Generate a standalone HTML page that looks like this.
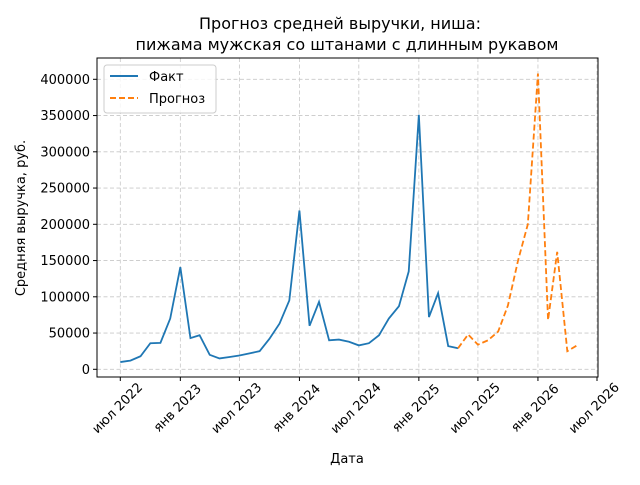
<!DOCTYPE html>
<html><head><meta charset="utf-8"><style>
body{margin:0;background:#fff;}
svg text{font-family:"DejaVu Sans","Liberation Sans",sans-serif;fill:#000;}
</style></head><body>
<svg id="c" width="640" height="480" viewBox="0 0 640 480" xmlns="http://www.w3.org/2000/svg">
<text x="340" y="29" font-size="16" text-anchor="middle">Прогноз средней выручки, ниша:</text>
<text x="347" y="50" font-size="16" text-anchor="middle">пижама мужская со штанами с длинным рукавом</text>
<g id="grid"></g><g id="series"></g><g id="axes"></g>
<rect x="97" y="58" width="501" height="319" fill="none" stroke="#000" stroke-width="1"/>
<text x="347" y="463" font-size="13" text-anchor="middle">Дата</text>
<text transform="translate(25,218) rotate(-90)" font-size="13" text-anchor="middle">Средняя выручка, руб.</text>
<g>
<rect x="104" y="65" width="112" height="48" rx="3" fill="#fff" fill-opacity="0.8" stroke="#ccc"/>
<line x1="110" y1="76" x2="138" y2="76" stroke="#1f77b4" stroke-width="2"/>
<text x="149" y="81" font-size="13">Факт</text>
<line x1="110" y1="98" x2="138" y2="98" stroke="#ff7f0e" stroke-width="2" stroke-dasharray="6,3"/>
<text x="149" y="103" font-size="13">Прогноз</text>
</g>
</svg>
<script>
const factStart = [2022, 6];
const factValues = [10000,12000,18000,36000,36500,70000,141000,43000,47000,20000,15000,17000,19000,22000,25000,42000,63000,95000,219000,60000,93000,40000,41000,38000,33000,36000,47000,70000,87000,135000,351000,72000,105000,32000,29000];
const forecastStart = [2025, 4];
const forecastValues = [29000,48000,34000,40000,52000,88000,150000,200000,408000,68000,162000,25000,33000];
const yTicks = [0,50000,100000,150000,200000,250000,300000,350000,400000];
const xTickDates = [[2022,6],[2023,0],[2023,6],[2024,0],[2024,6],[2025,0],[2025,6],[2026,0],[2026,6]];
const xTickLabels = ["июл 2022","янв 2023","июл 2023","янв 2024","июл 2024","янв 2025","июл 2025","янв 2026","июл 2026"];

const NS="http://www.w3.org/2000/svg";
const t0=Date.UTC(2022,6,1), t1=Date.UTC(2026,6,1);
function xs(y,m){return 120.3+(Date.UTC(y,m,1)-t0)/(t1-t0)*(597-120.3);}
function ys(v){return 369.3-v/400000*290;}
function mk(tag,attrs,parent){const e=document.createElementNS(NS,tag);for(const k in attrs)e.setAttribute(k,attrs[k]);parent.appendChild(e);return e;}
const grid=document.getElementById('grid'),axes=document.getElementById('axes'),series=document.getElementById('series');
yTicks.forEach(v=>{const y=ys(v);
 const g=mk('line',{x1:97,x2:598,y1:y,y2:y,stroke:'#c8c8c8','stroke-width':0.8,'stroke-dasharray':'4,2.5'},grid);
 
 
 const tk=mk('line',{x1:93,x2:97,y1:y,y2:y,stroke:'#000'},axes);
 
 
 const t=mk('text',{x:90,y:y+4.5,'font-size':13,'text-anchor':'end'},axes);t.textContent=String(v);
 
 
});
xTickDates.forEach((d,i)=>{const x=xs(d[0],d[1]);
 const g=mk('line',{x1:x,x2:x,y1:58,y2:377,stroke:'#c8c8c8','stroke-width':0.8,'stroke-dasharray':'4,2.5'},grid);
 
 
 const tk=mk('line',{x1:x,x2:x,y1:377,y2:381,stroke:'#000'},axes);
 
 
 const t=mk('text',{transform:`translate(${x},${411}) rotate(-45)`,'font-size':13,'text-anchor':'middle'},axes);t.textContent=xTickLabels[i];
 
 
});
function pts(start,vals){return vals.map((v,i)=>{const m=start[1]+i;return xs(start[0]+Math.floor(m/12),m%12).toFixed(2)+','+ys(v).toFixed(2);}).join(' ');}
const f=mk('polyline',{points:pts(factStart,factValues),fill:'none',stroke:'#1f77b4','stroke-width':1.8},series);


const p=mk('polyline',{points:pts(forecastStart,forecastValues),fill:'none',stroke:'#ff7f0e','stroke-width':1.8,'stroke-dasharray':'6,3'},series);


</script>
</body></html>
